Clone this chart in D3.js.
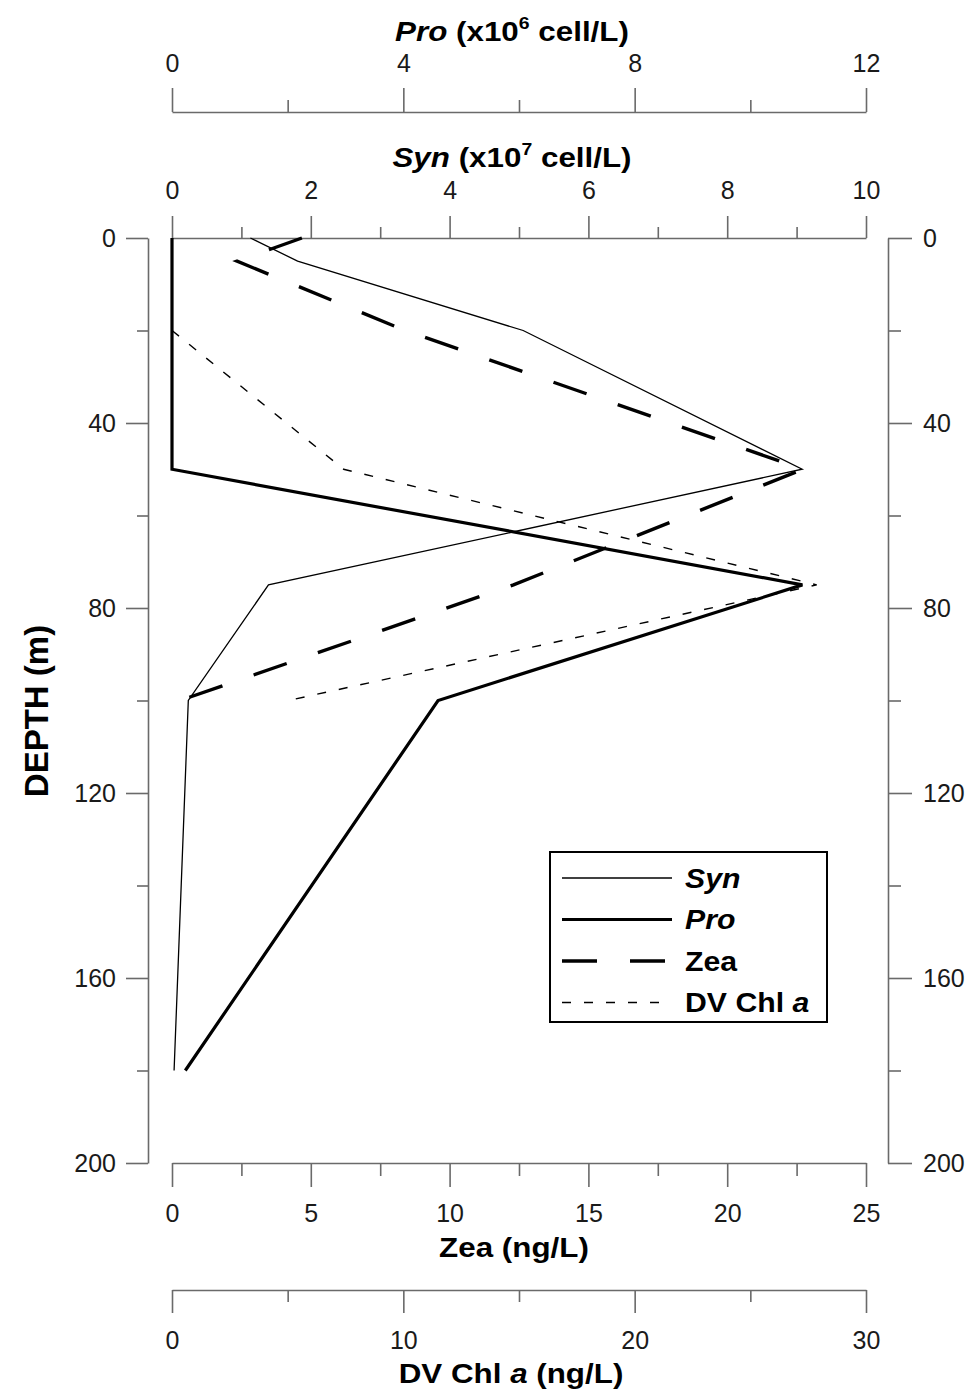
<!DOCTYPE html>
<html><head><meta charset="utf-8">
<script src="https://cdn.jsdelivr.net/npm/d3@7"></script>
<style>body{margin:0;background:#fff}svg{display:block}text{font-family:"Liberation Sans",Arial,sans-serif}</style>
</head><body>
<svg id="c" width="976" height="1392"></svg>
<script>
// ---- data ----
const synDepth = [0, 5, 20, 50, 75, 100, 180];
const synValue = [1.13, 1.81, 5.06, 9.08, 1.39, 0.235, 0.03];      // x10^7 cell/L
const proDepth = [0, 5, 20, 50, 75, 100, 180];
const proValue = [0, 0, 0, 0, 10.9, 4.6, 0.23];                    // x10^6 cell/L
const zeaDepth = [0, 5, 20, 50, 75, 100];
const zeaValue = [4.68, 2.34, 8.4, 22.73, 12.3, 0.29];             // ng/L
const dvDepth = [20, 50, 75, 100];
const dvValue = [0, 7.42, 27.87, 5.03];                            // ng/L
const depthTicks = [0, 20, 40, 60, 80, 100, 120, 140, 160, 180, 200];
const depthLabels = [0, 40, 80, 120, 160, 200];
const proTicks = [0, 2, 4, 6, 8, 10, 12], proLabels = [0, 4, 8, 12];
const synTicks = [0,1,2,3,4,5,6,7,8,9,10], synLabels = [0, 2, 4, 6, 8, 10];
const zeaTicks = [0, 2.5, 5, 7.5, 10, 12.5, 15, 17.5, 20, 22.5, 25], zeaLabels = [0, 5, 10, 15, 20, 25];
const dvTicks = [0, 5, 10, 15, 20, 25, 30], dvLabels = [0, 10, 20, 30];
const legendItems = ["Syn", "Pro", "Zea", "DV Chl a"];

// ---- layout ----
const X0 = 172, X1 = 866, Y0 = 238, Y1 = 1163;
const SX = 1.0; // horizontal text stretch for tick labels
const svg = d3.select("#c");
const y = d3.scaleLinear([0, 200], [Y0, Y1]);
const xSyn = d3.scaleLinear([0, 10], [X0, X1]);
const xPro = d3.scaleLinear([0, 12], [X0, X1]);
const xZea = d3.scaleLinear([0, 25], [X0, X1]);
const xDv = d3.scaleLinear([0, 30], [X0, X1]);
const axisColor = "#6a6a6a";

function stretchTexts(sel, fs) {
  sel.selectAll("text").attr("font-size", fs).attr("fill", "#1a1a1a")
    .each(function () {
      const t = d3.select(this);
      const x = +t.attr("x") || 0;
      t.attr("x", x / SX).attr("transform", `scale(${SX},1)`);
    });
}
function styleAxis(g) {
  g.attr("font-family", null).attr("font-size", null);
  g.selectAll("path,line").attr("stroke", axisColor).attr("stroke-width", 1.6);
}
function hAxis(gen, scale, ticks, labels, ypos, major, minor, pad) {
  const g = svg.append("g").attr("transform", `translate(0,${ypos})`);
  g.call(gen(scale).tickValues(ticks.filter(v => !labels.includes(v))).tickSize(minor).tickSizeOuter(0).tickFormat(""));
  const g2 = svg.append("g").attr("transform", `translate(0,${ypos})`);
  g2.call(gen(scale).tickValues(labels).tickSize(major).tickSizeOuter(0).tickPadding(pad).tickFormat(d3.format("d")));
  g2.select(".domain").remove();
  styleAxis(g); styleAxis(g2); stretchTexts(g2, 25);
}
hAxis(d3.axisTop, xPro, proTicks, proLabels, 112, 24, 12, 16);
hAxis(d3.axisTop, xSyn, synTicks, synLabels, 238, 22, 11, 17);
hAxis(d3.axisBottom, xZea, zeaTicks, zeaLabels, Y1, 24, 13, 17);
hAxis(d3.axisBottom, xDv, dvTicks, dvLabels, 1290, 23, 12, 18);

function vAxis(gen, xpos, major, minor, pad) {
  const g = svg.append("g").attr("transform", `translate(${xpos},0)`);
  g.call(gen(y).tickValues(depthTicks.filter(v => !depthLabels.includes(v))).tickSize(minor).tickSizeOuter(0).tickFormat(""));
  const g2 = svg.append("g").attr("transform", `translate(${xpos},0)`);
  g2.call(gen(y).tickValues(depthLabels).tickSize(major).tickSizeOuter(0).tickPadding(pad).tickFormat(d3.format("d")));
  g2.select(".domain").remove();
  styleAxis(g); styleAxis(g2); stretchTexts(g2, 25);
}
vAxis(d3.axisLeft, 148, 22, 11, 10);
vAxis(d3.axisRight, 888, 24, 13, 11);

// ---- titles ----
function title(parts, x, yb, fs) {
  const t = svg.append("text").attr("text-anchor", "middle").attr("font-weight", "bold")
    .attr("font-size", fs).attr("fill", "#000")
    .attr("transform", `translate(${x},${yb}) scale(${1.12},1)`);
  parts.forEach(p => {
    const s = t.append("tspan").text(p.t);
    if (p.i) s.attr("font-style", "italic");
    if (p.sup) s.attr("font-size", fs * 0.62).attr("dy", -fs * 0.42);
    if (p.down) s.attr("dy", fs * 0.42);
  });
  return t;
}
title([{t: "Pro", i: 1}, {t: " (x10"}, {t: "6", sup: 1}, {t: " cell/L)", down: 1}], 512, 41, 28);
title([{t: "Syn", i: 1}, {t: " (x10"}, {t: "7", sup: 1}, {t: " cell/L)", down: 1}], 512, 167, 28);
title([{t: "Zea (ng/L)"}], 514, 1257, 28);
title([{t: "DV Chl "}, {t: "a", i: 1}, {t: " (ng/L)"}], 511, 1383, 28);
svg.append("text").attr("text-anchor", "middle").attr("font-weight", "bold").attr("font-size", 33)
  .attr("transform", "translate(48,711) rotate(-90)").text("DEPTH (m)");

// ---- lines ----
const series = [
  {d: synDepth, v: synValue, x: xSyn, w: 1.3, dash: null},
  {d: proDepth, v: proValue, x: xPro, w: 3.2, dash: null},
  {d: zeaDepth, v: zeaValue, x: xZea, w: 3.4, dash: "35,33"},
  {d: dvDepth, v: dvValue, x: xDv, w: 1.4, dash: "9,13"}
];
series.forEach(s => {
  const pts = s.d.map((d, i) => [s.x(s.v[i]), y(d)]);
  svg.append("path").attr("d", d3.line()(pts)).attr("fill", "none").attr("stroke", "#000")
    .attr("stroke-width", s.w).attr("stroke-dasharray", s.dash).attr("stroke-linejoin", "miter");
});

// ---- legend ----
const lg = svg.append("g");
lg.append("rect").attr("x", 550).attr("y", 852).attr("width", 277).attr("height", 170)
  .attr("fill", "#fff").attr("stroke", "#000").attr("stroke-width", 2);
legendItems.forEach((name, i) => {
  const s = series[i], yy = 878 + i * 41.5;
  lg.append("line").attr("x1", 562).attr("x2", 672).attr("y1", yy).attr("y2", yy)
    .attr("stroke", "#000").attr("stroke-width", s.w).attr("stroke-dasharray", s.dash);
  const t = lg.append("text").attr("font-weight", "bold").attr("font-size", 27)
    .attr("transform", `translate(685,${yy + 9.5}) scale(1.12,1)`);
  if (name === "DV Chl a") { t.append("tspan").text("DV Chl "); t.append("tspan").attr("font-style", "italic").text("a"); }
  else if (name === "Zea") t.text(name);
  else t.attr("font-style", "italic").text(name);
});
</script>
</body></html>
